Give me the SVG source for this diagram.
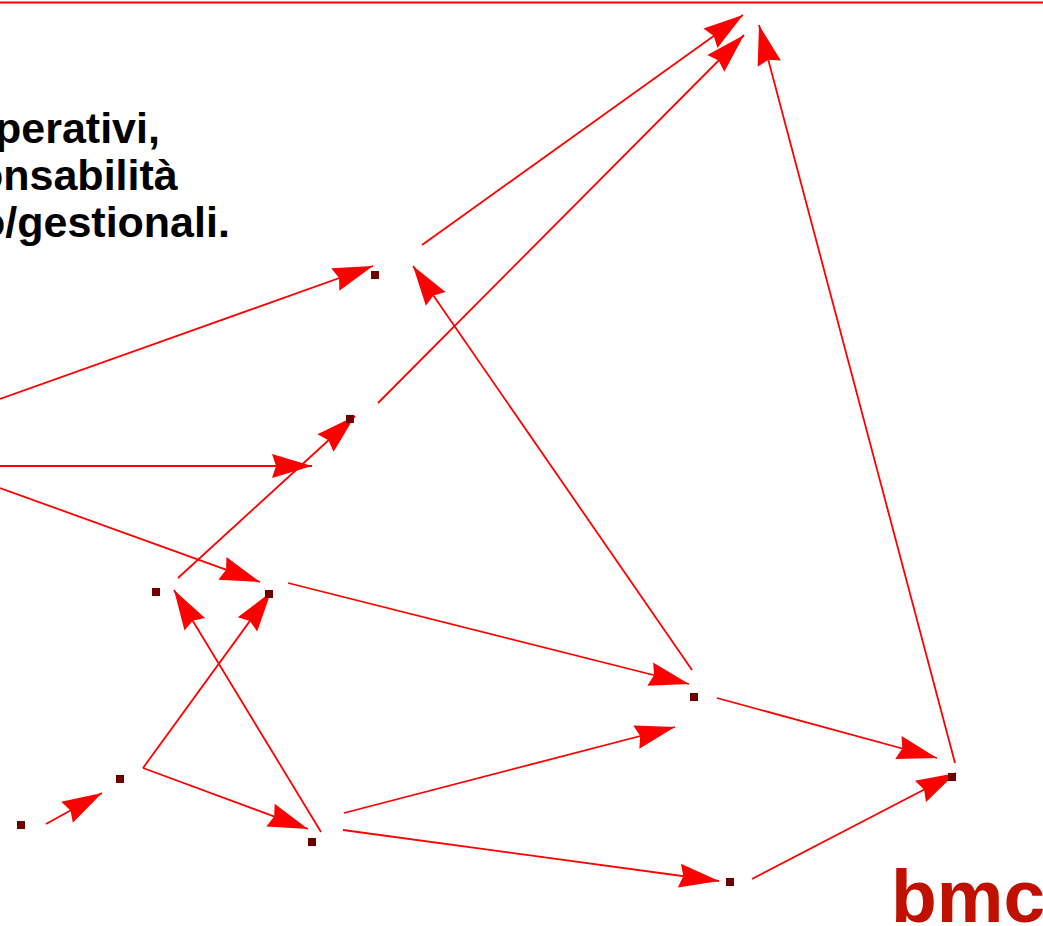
<svg xmlns="http://www.w3.org/2000/svg" width="1043" height="926" viewBox="0 0 1043 926">
  <style>
    .edge { stroke: #ff0000; stroke-width: 1.8; fill: none; marker-end: url(#head); }
    .node rect { fill: #6e0000; }
    .caption { font-family: "Liberation Sans", Arial, sans-serif; font-weight: bold; font-size: 43px; fill: #000000; }
    .brand { font-family: "Liberation Sans", Arial, sans-serif; font-weight: bold; font-size: 75px; fill: #c01000; }
  </style>
  <defs>
    <!-- filled arrowhead, tip at the end of the line -->
    <marker id="head" markerUnits="userSpaceOnUse" viewBox="-44 -14 46 28" refX="0" refY="0" markerWidth="46" markerHeight="28" orient="auto">
      <path d="M0,0 L-40,-12 L-36,0 L-40,12 Z" fill="#ff0000"/>
    </marker>
  </defs>

  <rect x="0" y="0" width="1043" height="926" fill="#ffffff"/>

  <!-- rule along the top edge -->
  <line x1="0" y1="2.5" x2="1043" y2="2.5" stroke="#ff0000" stroke-width="1.8"/>

  <!-- caption, clipped at the left edge -->
  <g id="caption" class="caption">
    <text x="-5" y="143">perativi,</text>
    <text x="-23" y="190">onsabilità</text>
    <text x="-21" y="237">o/gestionali.</text>
  </g>

  <g id="connectors">
    <line class="edge" x1="422" y1="245" x2="743" y2="15"/>
    <line class="edge" x1="378" y1="403" x2="744" y2="35"/>
    <line class="edge" x1="955" y1="763" x2="759" y2="25"/>
    <line class="edge" x1="0" y1="399" x2="373" y2="266"/>
    <line class="edge" x1="0" y1="466" x2="312" y2="466"/>
    <line class="edge" x1="0" y1="488" x2="260" y2="582"/>
    <line class="edge" x1="178" y1="578" x2="355" y2="416"/>
    <line class="edge" x1="692" y1="670" x2="413" y2="266"/>
    <line class="edge" x1="288" y1="583" x2="689" y2="684"/>
    <line class="edge" x1="717" y1="698" x2="937" y2="758"/>
    <line class="edge" x1="143" y1="768" x2="271" y2="592"/>
    <line class="edge" x1="143" y1="768" x2="308" y2="829"/>
    <line class="edge" x1="321" y1="832" x2="174" y2="590"/>
    <line class="edge" x1="46" y1="824" x2="102" y2="793"/>
    <line class="edge" x1="344" y1="813" x2="675" y2="727"/>
    <line class="edge" x1="343" y1="830" x2="719" y2="881"/>
    <line class="edge" x1="752" y1="879" x2="956" y2="773"/>
  </g>

  <g id="n1" class="node"><rect x="371" y="271" width="8" height="8"/></g>
  <g id="n2" class="node"><rect x="346" y="415" width="8" height="8"/></g>
  <g id="n3" class="node"><rect x="152" y="588" width="8" height="8"/></g>
  <g id="n4" class="node"><rect x="265" y="590" width="8" height="8"/></g>
  <g id="n5" class="node"><rect x="116" y="775" width="8" height="8"/></g>
  <g id="n6" class="node"><rect x="17" y="821" width="8" height="8"/></g>
  <g id="n7" class="node"><rect x="308" y="838" width="8" height="8"/></g>
  <g id="n8" class="node"><rect x="690" y="693" width="8" height="8"/></g>
  <g id="n9" class="node"><rect x="726" y="878" width="8" height="8"/></g>
  <g id="n10" class="node"><rect x="948" y="773" width="8" height="8"/></g>

  <text class="brand" x="891" y="922">bmc</text>
</svg>
